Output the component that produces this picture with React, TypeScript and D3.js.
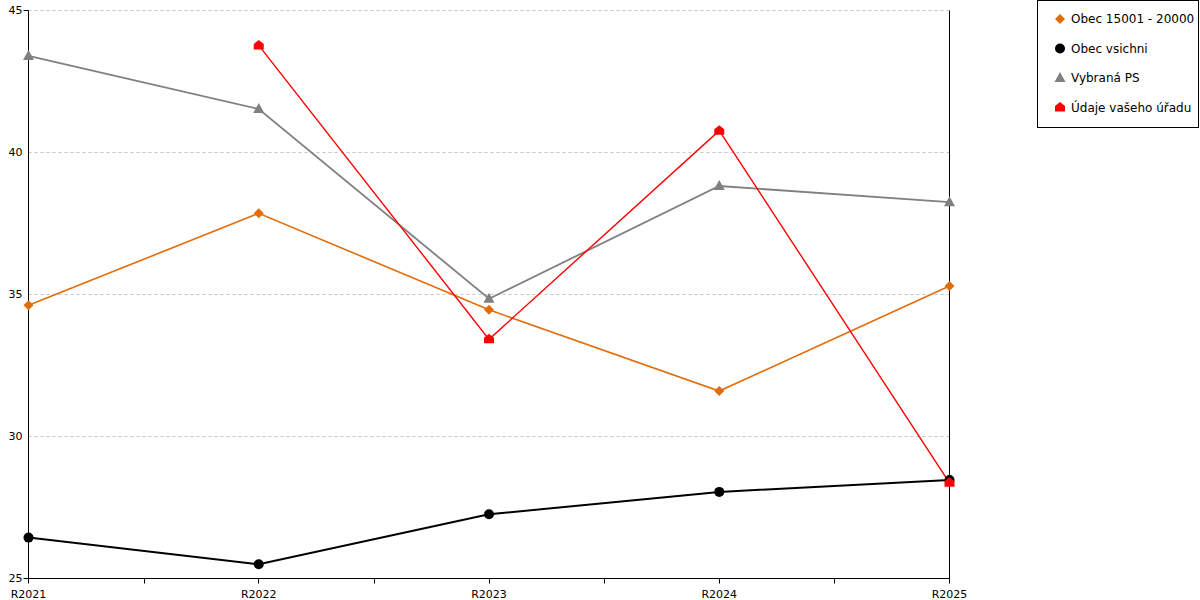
import React from "react";
import * as d3 from "d3";

const categories = ["R2021", "R2022", "R2023", "R2024", "R2025"];
const seriesNames = ["Obec 15001 - 20000", "Obec vsichni", "Vybraná PS", "Údaje vašeho úřadu"];
const obec15001: (number | null)[] = [34.62, 37.86, 34.46, 31.6, 35.3];
const obecVsichni: (number | null)[] = [26.44, 25.5, 27.26, 28.05, 28.47];
const vybranaPS: (number | null)[] = [43.4, 41.53, 34.85, 38.82, 38.25];
const udaje: (number | null)[] = [null, 43.77, 33.42, 40.77, 28.37];
const yTicks = [25, 30, 35, 40, 45];

const colors = ["#E36C0A", "#000000", "#808080", "#FF0000"];
const shapes = ["diamond", "circle", "triangle", "house"];
const widths = [1.6, 2, 1.8, 1.4];

const W = 1200, H = 600;
const left = 28.5, right = 949.5, top = 10.5, bottom = 578.5;

function Marker({ shape, x, y, color }: { shape: string; x: number; y: number; color: string }) {
  if (shape === "circle") return <circle cx={x} cy={y} r={5} fill={color} />;
  if (shape === "diamond")
    return <path d={`M${x},${y - 5}L${x + 5},${y}L${x},${y + 5}L${x - 5},${y}Z`} fill={color} />;
  if (shape === "triangle")
    return <path d={`M${x},${y - 6}L${x + 5.5},${y + 4}L${x - 5.5},${y + 4}Z`} fill={color} />;
  return (
    <path
      d={`M${x},${y - 5.5}L${x + 5},${y - 1.5}L${x + 5},${y + 4}L${x - 5},${y + 4}L${x - 5},${y - 1.5}Z`}
      fill={color}
    />
  );
}

export default function App() {
  const x = d3.scalePoint<string>().domain(categories).range([left, right]);
  const y = d3.scaleLinear().domain([25, 45]).range([bottom, top]);
  const allSeries = [obec15001, obecVsichni, vybranaPS, udaje];
  const line = d3
    .line<number | null>()
    .defined((d) => d !== null)
    .x((_, i) => x(categories[i]) as number)
    .y((d) => y(d as number));

  const step = x.step();
  const minorTicks = categories.slice(0, -1).map((c) => Math.round((x(c) as number) + step / 2) + 0.5);
  const font = "DejaVu Sans, Verdana, sans-serif";
  const crisp = (v: number) => Math.floor(v) + 0.5;

  return (
    <svg width={W} height={H} style={{ position: "absolute", left: 0, top: 0 }} fontFamily={font}>
      <rect width={W} height={H} fill="#fff" />
      {yTicks.filter((t) => t !== 25).map((t) => (
        <line key={t} x1={left} x2={right} y1={crisp(y(t))} y2={crisp(y(t))} stroke="#c4c4c4" strokeDasharray="3,3" strokeWidth={1} />
      ))}
      {/* axes */}
      <line x1={left} x2={left} y1={top} y2={bottom} stroke="#000" />
      <line x1={right} x2={right} y1={top} y2={bottom} stroke="#000" />
      <line x1={left} x2={right} y1={bottom} y2={bottom} stroke="#000" />
      {[25, 45].map((t) => (
        <g key={t}>
          <line x1={left - 5} x2={left} y1={crisp(y(t))} y2={crisp(y(t))} stroke="#000" />
          <text x={left - 6} y={y(t)} dy="0.35em" textAnchor="end" fontSize={11}>{t}</text>
        </g>
      ))}
      {[30, 35, 40].map((t) => (
        <text key={t} x={left - 6} y={y(t)} dy="0.35em" textAnchor="end" fontSize={11}>{t}</text>
      ))}
      {categories.map((c) => (
        <g key={c}>
          <line x1={crisp(x(c) as number)} x2={crisp(x(c) as number)} y1={bottom} y2={bottom + 5} stroke="#000" />
          <text x={x(c)} y={bottom + 19} textAnchor="middle" fontSize={11}>{c}</text>
        </g>
      ))}
      {minorTicks.map((m, i) => (
        <line key={i} x1={m} x2={m} y1={bottom} y2={bottom + 5} stroke="#000" />
      ))}
      {allSeries.map((s, si) => (
        <path key={si} d={line(s) || ""} fill="none" stroke={colors[si]} strokeWidth={widths[si]} />
      ))}
      {allSeries.map((s, si) =>
        s.map((v, i) =>
          v === null ? null : (
            <Marker key={`${si}-${i}`} shape={shapes[si]} x={x(categories[i]) as number} y={y(v)} color={colors[si]} />
          )
        )
      )}
      {/* legend */}
      <rect x={1037.5} y={0.5} width={161} height={127} fill="#fff" stroke="#000" />
      {seriesNames.map((n, i) => (
        <g key={n}>
          <Marker shape={shapes[i]} x={1060} y={19 + i * 29.5} color={colors[i]} />
          <text x={1071} y={19 + i * 29.5} dy="0.35em" fontSize={12}>{n}</text>
        </g>
      ))}
    </svg>
  );
}
